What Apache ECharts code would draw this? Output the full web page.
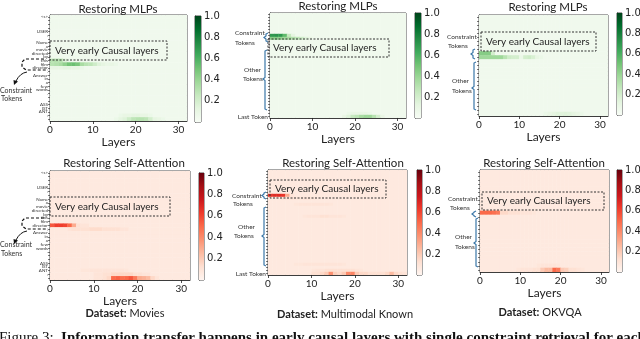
<!DOCTYPE html>
<html>
<head>
<meta charset="utf-8">
<script src="https://cdn.jsdelivr.net/npm/echarts@6/dist/echarts.min.js"></script>
<style>
  html, body { margin: 0; padding: 0; background: #fff; }
  #main { width: 640px; height: 339px; }
</style>
</head>
<body>
<div id="main"></div>
<script>
// 32 layers on x, one row per prompt token on y
var layerCount = 32;
var layerTicks = [0, 10, 20, 30];
var barTicks = [0.2, 0.4, 0.6, 0.8, 1.0];

var moviesTokens = ['<s>', '', '', '', 'USER', ':', '', 'Name', 'a', 'movie', 'directed', 'by', 'this', 'film',
  'director', '.', 'Answer', 'in', 'a', 'few', 'words', '.', '', '', 'ASS', 'IST', 'ANT', ':', ''];
var mkTokens = [];
for (var i = 0; i < 35; i++) mkTokens.push(i === 34 ? 'Last Token' : '');
var okTokens = [];
for (var j = 0; j < 25; j++) okTokens.push('');

// background level of the heatmaps (almost nothing restored)
var mlpBase = 0.05;
var attnBase = 0.07;

// hot rows: [token row, first layer, values from that layer on]
var mlpMoviesHot = [
  [12, 0, [0.3, 0.32, 0.3, 0.15, 0.08]],
  [13, 0, [0.3, 0.32, 0.35, 0.42, 0.5, 0.52, 0.48, 0.35, 0.3, 0.28, 0.22, 0.15, 0.12, 0.09, 0.1, 0.08]],
  [14, 0, [0.1, 0.1, 0.1, 0.12, 0.12, 0.1, 0.1, 0.08]],
  [27, 16, [0.08, 0.1, 0.1, 0.12, 0.12, 0.1, 0.1, 0.08]],
  [28, 15, [0.08, 0.12, 0.15, 0.22, 0.28, 0.3, 0.3, 0.28, 0.2, 0.12, 0.1, 0.08]]
];
var mlpMkHot = [
  [7, 0, [0.7, 0.72, 0.7, 0.55, 0.25, 0.12]],
  [8, 0, [0.45, 0.45, 0.42, 0.38, 0.35, 0.32, 0.28, 0.22, 0.15, 0.1]],
  [33, 18, [0.08, 0.1, 0.1, 0.1, 0.1, 0.08]],
  [34, 17, [0.1, 0.15, 0.25, 0.28, 0.35, 0.38, 0.38, 0.3, 0.2, 0.1]]
];
var mlpOkHot = [
  [9, 0, [0.45, 0.45, 0.45, 0.2]],
  [10, 0, [0.38, 0.38, 0.38, 0.38, 0.38, 0.38, 0.3, 0.22, 0.2, 0.2, 0.08, 0.2, 0.22, 0.18, 0.1, 0.08]],
  [24, 16, [0.08, 0.1, 0.12, 0.14, 0.14, 0.15, 0.14, 0.12, 0.1, 0.08]]
];
var attnMoviesHot = [
  [14, 0, [0.55, 0.62, 0.62, 0.6, 0.5, 0.3, 0.12, 0.1, 0.1]],
  [15, 4, [0.1, 0.12, 0.12, 0.12, 0.12, 0.14, 0.14, 0.14, 0.12, 0.12, 0.12, 0.12, 0.1, 0.1]],
  [26, 7, [0.09, 0.09, 0.1, 0.1, 0.1, 0.1, 0.1, 0.1, 0.1, 0.1, 0.09]],
  [27, 10, [0.1, 0.1, 0.12, 0.12, 0.15, 0.15, 0.15, 0.15, 0.15, 0.12, 0.12, 0.1, 0.1]],
  [28, 10, [0.1, 0.1, 0.12, 0.15, 0.5, 0.52, 0.48, 0.5, 0.55, 0.45, 0.3, 0.28, 0.25, 0.15, 0.1]]
];
var attnMkHot = [
  [8, 0, [0.65, 0.68, 0.68, 0.65, 0.3, 0.1]],
  [9, 3, [0.1, 0.1, 0.1, 0.09, 0.09, 0.1, 0.1, 0.09]],
  [11, 6, [0.09, 0.1, 0.1, 0.1, 0.1, 0.1, 0.1, 0.1, 0.09]],
  [15, 8, [0.09, 0.1, 0.1, 0.1, 0.12, 0.12, 0.1, 0.1, 0.1, 0.09]],
  [31, 6, [0.09, 0.09, 0.1, 0.1, 0.1, 0.1, 0.1, 0.1, 0.1, 0.1, 0.1, 0.09]],
  [33, 10, [0.09, 0.1, 0.1, 0.12, 0.12, 0.12, 0.12, 0.12, 0.12, 0.12, 0.1, 0.09]],
  [34, 10, [0.12, 0.12, 0.15, 0.2, 0.38, 0.18, 0.15, 0.2, 0.4, 0.42, 0.2, 0.15, 0.15, 0.12, 0.12, 0.12, 0.12, 0.15, 0.25, 0.15, 0.12, 0.1]]
];
var attnOkHot = [
  [10, 0, [0.5, 0.5, 0.5, 0.48, 0.45, 0.15, 0.15, 0.12, 0.12, 0.12, 0.1, 0.1, 0.1, 0.09]],
  [23, 14, [0.09, 0.1, 0.1, 0.1, 0.1, 0.09]],
  [24, 9, [0.09, 0.1, 0.1, 0.1, 0.12, 0.12, 0.2, 0.25, 0.25, 0.5, 0.45, 0.2, 0.18, 0.12, 0.12, 0.1, 0.09]]
];

var greens = ['#f7fcf5', '#e5f5e0', '#c7e9c0', '#a1d99b', '#74c476', '#41ab5d', '#238b45', '#006d2c', '#00441b'];
var reds = ['#fff5f0', '#fee0d2', '#fcbba1', '#fc9272', '#fb6a4a', '#ef3b2c', '#cb181d', '#a50f15', '#67000d'];

var panels = [
  { rows: moviesTokens, hot: mlpMoviesHot, base: mlpBase, pal: greens, title: 'Restoring MLPs',
    g: [50, 15, 137, 106], cb: [195, 16, 6, 106], tx: 118, ty: 9, gap: 11, lab: 4.5 },
  { rows: mkTokens, hot: mlpMkHot, base: mlpBase, pal: greens, title: 'Restoring MLPs',
    g: [270, 13, 136, 105], cb: [415, 13, 6, 105], tx: 338, ty: 6, gap: 11, lab: 6.5 },
  { rows: okTokens, hot: mlpOkHot, base: mlpBase, pal: greens, title: 'Restoring MLPs',
    g: [479, 15, 129, 101], cb: [617, 13, 5, 102], tx: 548, ty: 7, gap: 10, lab: 6.5 },
  { rows: moviesTokens, hot: attnMoviesHot, base: attnBase, pal: reds, title: 'Restoring Self-Attention',
    g: [50, 171, 140, 109], cb: [199, 173, 5, 107], tx: 124, ty: 163, gap: 13, lab: 4.5 },
  { rows: mkTokens, hot: attnMkHot, base: attnBase, pal: reds, title: 'Restoring Self-Attention',
    g: [268, 170, 139, 105], cb: [417, 170, 5, 105], tx: 343, ty: 163, gap: 11, lab: 6.5 },
  { rows: okTokens, hot: attnOkHot, base: attnBase, pal: reds, title: 'Restoring Self-Attention',
    g: [480, 170, 129, 102], cb: [617, 170, 5, 102], tx: 544, ty: 163, gap: 13, lab: 6.5 }
];

function cells(rows, base, hot) {
  var m = [];
  for (var r = 0; r < rows; r++) {
    var row = [];
    for (var l = 0; l < layerCount; l++) row.push(base);
    m.push(row);
  }
  hot.forEach(function (h) {
    h[2].forEach(function (v, k) {
      var l = h[1] + k;
      m[h[0]][l] = Math.max(m[h[0]][l], v);
    });
  });
  var out = [];
  m.forEach(function (row, r) {
    row.forEach(function (v, l) { out.push([l, r, v]); });
  });
  return out;
}

function renderCell(params, api) {
  var p = api.coord([api.value(0), api.value(1)]);
  var s = api.size([1, 1]);
  return {
    type: 'rect',
    shape: { x: p[0] - 0.2, y: p[1] - s[1] / 2 - 0.2, width: s[0] + 0.4, height: s[1] + 0.4 },
    style: { fill: api.visual('color') }
  };
}

function barRender(pal) {
  var stops = pal.slice().reverse().map(function (c, k) { return { offset: k / (pal.length - 1), color: c }; });
  return function (params, api) {
    var a = api.coord([0, 1]);
    var b = api.coord([1, 0]);
    return {
      type: 'rect',
      shape: { x: a[0], y: a[1], width: b[0] - a[0], height: b[1] - a[1] },
      style: { fill: new echarts.graphic.LinearGradient(0, 0, 0, 1, stops) }
    };
  };
}

var dark = '#222';
var option = {
  animation: false,
  backgroundColor: '#fff',
  grid: [], xAxis: [], yAxis: [], series: [], visualMap: [], graphic: []
};

panels.forEach(function (p) {
  var gi = option.grid.length;
  option.grid.push({ left: p.g[0], top: p.g[1], width: p.g[2], height: p.g[3], show: true,
    borderColor: dark, borderWidth: 0.8, backgroundColor: 'transparent', outerBoundsMode: 'none' });
  option.xAxis.push({
    gridIndex: gi, type: 'value', min: 0, max: layerCount,
    name: 'Layers', nameLocation: 'middle', nameGap: p.gap,
    nameTextStyle: { fontFamily: 'Lato', fontSize: 12, color: dark },
    axisLine: { show: true, lineStyle: { color: dark, width: 0.8 } },
    axisTick: { show: true, length: 3, customValues: layerTicks, lineStyle: { color: dark, width: 0.8 } },
    axisLabel: { customValues: layerTicks, fontFamily: 'Lato', fontSize: 10, color: dark, margin: 4 },
    splitLine: { show: false }
  });
  option.yAxis.push({
    gridIndex: gi, type: 'category', data: p.rows, inverse: true,
    axisLine: { show: true, lineStyle: { color: dark, width: 0.8 } },
    axisTick: { show: true, alignWithLabel: true, interval: 0, length: 2, lineStyle: { color: dark, width: 0.6 } },
    axisLabel: { interval: 0, fontFamily: 'Lato', fontSize: p.lab, color: '#333', margin: 2 },
    splitLine: { show: false }
  });
  option.series.push({
    type: 'custom', xAxisIndex: gi, yAxisIndex: gi, silent: true, clip: true,
    encode: { x: 0, y: 1 },
    data: cells(p.rows.length, p.base, p.hot),
    renderItem: renderCell
  });
  option.visualMap.push({ type: 'continuous', show: false, seriesIndex: option.series.length - 1,
    dimension: 2, min: 0, max: 1, inRange: { color: p.pal } });

  // colour bar
  var ci = option.grid.length;
  option.grid.push({ left: p.cb[0], top: p.cb[1], width: p.cb[2], height: p.cb[3], show: true,
    borderColor: dark, borderWidth: 0.8, backgroundColor: 'transparent', outerBoundsMode: 'none' });
  option.xAxis.push({ gridIndex: ci, type: 'value', min: 0, max: 1, show: false });
  option.yAxis.push({
    gridIndex: ci, type: 'value', min: 0, max: 1, position: 'right',
    axisLine: { show: true, lineStyle: { color: dark, width: 0.8 } },
    axisTick: { show: true, length: 3, customValues: barTicks, lineStyle: { color: dark, width: 0.8 } },
    axisLabel: { customValues: barTicks, formatter: function (v) { return v.toFixed(1); },
      fontFamily: 'DejaVu Sans', fontSize: 10, color: dark, margin: 3 },
    splitLine: { show: false }
  });
  option.series.push({ type: 'custom', xAxisIndex: ci, yAxisIndex: ci, silent: true,
    data: [[0, 0]], renderItem: barRender(p.pal) });

  option.graphic.push({ type: 'text', x: p.tx, y: p.ty, z: 100,
    style: { text: p.title, fontFamily: 'Lato', fontSize: 11.5, fill: dark, align: 'center', verticalAlign: 'middle' } });
});

// dashed "Very early Causal layers" boxes
var boxes = [[50, 41, 117, 19], [268, 39, 121, 18], [481, 32, 115, 19], [50, 197, 120, 19], [270, 180, 116, 18], [482, 192, 122, 18]];
boxes.forEach(function (b) {
  option.graphic.push({ type: 'rect', z: 100, shape: { x: b[0], y: b[1], width: b[2], height: b[3] },
    style: { fill: 'none', stroke: '#333', lineWidth: 1, lineDash: [2, 1.5] } });
  option.graphic.push({ type: 'text', z: 101, x: b[0] + 5, y: b[1] + b[3] / 2,
    style: { text: 'Very early Causal layers', fontFamily: 'Lato', fontSize: 10, fill: dark, verticalAlign: 'middle' } });
});

function note(x, y, t, size) {
  option.graphic.push({ type: 'text', z: 100, x: x, y: y,
    style: { text: t, fontFamily: 'Lato', fontSize: size || 6.5, fill: '#333', verticalAlign: 'middle' } });
}
function brace(x, y0, y1, ym) {
  option.graphic.push({ type: 'polyline', z: 100,
    shape: { points: [[x + 2, y0], [x, y0 + 1], [x, ym - 1.5], [x - 2, ym], [x, ym + 1.5], [x, y1 - 1], [x + 2, y1]] },
    style: { stroke: '#3b77a8', lineWidth: 1.2, fill: 'none' } });
}

// token group annotations
note(235, 33, 'Constraint'); note(235, 43, 'Tokens');
note(244, 70, 'Other'); note(243, 79, 'Tokens');
brace(266, 33, 42, 37.5); brace(265, 50, 110, 79);
note(447, 37, 'Constraint'); note(448, 46, 'Tokens');
note(452, 81, 'Other'); note(452, 91, 'Tokens');
brace(473, 49, 59, 54); brace(474, 62, 110, 88);
note(232, 196, 'Constraint'); note(233, 204, 'Tokens');
note(238, 227, 'Other'); note(234, 236, 'Tokens');
brace(264, 192, 199, 195.5); brace(264, 207, 266, 236);
note(448, 199, 'Constraint'); note(450, 208, 'Tokens');
note(455, 237, 'Other'); note(455, 247, 'Tokens');
brace(474, 211, 217, 214); brace(476, 218, 267, 243);

// movies: dashed loop round the constraint tokens with an arrow
[0, 159].forEach(function (dy, k) {
  option.graphic.push({ type: 'polyline', z: 100,
    shape: { points: [[44, 59 + dy], [25, 59 + dy], [22, 62 + dy], [22, 67 + dy], [26, 70 + dy], [48, 70 + dy]] },
    style: { stroke: '#111', lineWidth: 1.2, lineDash: [3, 2], fill: 'none' } });
  option.graphic.push({ type: 'bezierCurve', z: 100,
    shape: { x1: 27, y1: 72 + dy, cpx1: 20, cpy1: 73 + dy, x2: 16, y2: 81 + dy },
    style: { stroke: '#111', lineWidth: 1, fill: 'none' } });
  option.graphic.push({ type: 'polygon', z: 100,
    shape: { points: [[14, 85 + dy], [13.5, 80 + dy], [18, 81.5 + dy]] },
    style: { fill: '#111' } });
  note(0, 91 + dy - (k ? 5 : 0), 'Constraint', 7);
  note(1, 99 + dy - (k ? 4 : 0), 'Tokens', 7);
});

// dataset names
[['Movies', 125, 313], ['Multimodal Known', 345, 314], ['OKVQA', 540, 312]].forEach(function (d) {
  option.graphic.push({ type: 'text', z: 100, x: d[1], y: d[2],
    style: { text: '{b|Dataset:} ' + d[0], fontFamily: 'Lato', fontSize: 11, fill: dark,
      align: 'center', verticalAlign: 'middle',
      rich: { b: { fontFamily: 'Lato', fontSize: 11, fontWeight: 'bold', fill: dark } } } });
});

// caption, cut by the bottom edge
option.graphic.push({ type: 'text', z: 100, x: -1, y: 331,
  style: { text: 'Figure 3:  {b|Information transfer happens in early causal layers with single constraint retrieval for each}',
    fontFamily: 'Liberation Serif', fontSize: 15, fill: '#111', verticalAlign: 'top',
    rich: { b: { fontFamily: 'Liberation Serif', fontSize: 15, fontWeight: 'bold', fill: '#111' } } } });

var myChart = echarts.init(document.getElementById('main'));
myChart.setOption(option);
</script>
</body>
</html>
